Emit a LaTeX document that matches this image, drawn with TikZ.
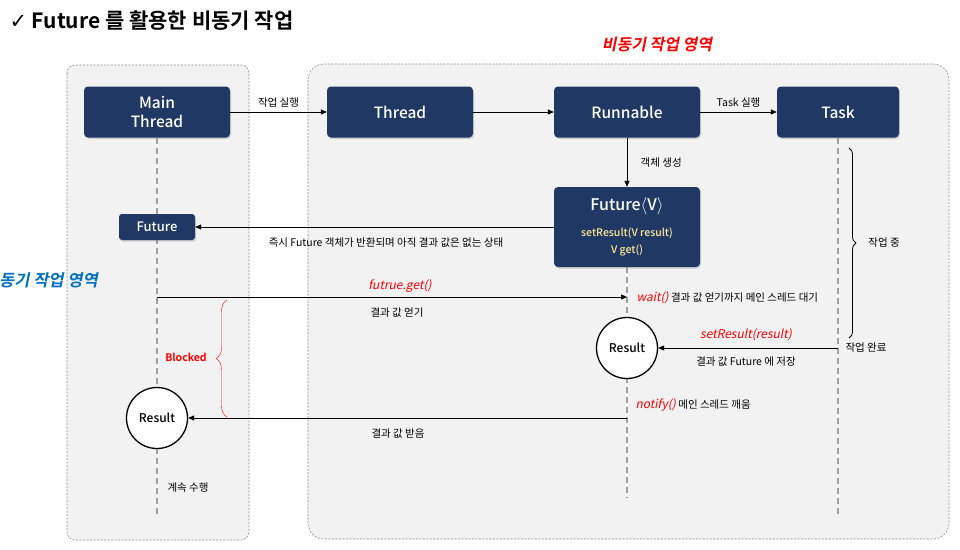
\documentclass[tikz,border=0pt]{standalone}
\usepackage{fontspec}
\setmainfont{Noto Sans CJK KR}[BoldFont={Noto Sans CJK KR Bold}, ItalicFont={Noto Sans CJK KR}, ItalicFeatures={FakeSlant=0.2}, BoldItalicFont={Noto Sans CJK KR Bold}, BoldItalicFeatures={FakeSlant=0.2}]
\newfontfamily\medfont{Noto Sans CJK KR Medium}
\newfontfamily\symfont{DejaVu Sans}
\usetikzlibrary{arrows.meta,decorations.pathreplacing,shadows}

\definecolor{boxnavy}{RGB}{32,56,100}
\definecolor{zonegray}{RGB}{242,242,242}
\definecolor{zoneline}{RGB}{140,140,140}
\definecolor{lifegray}{RGB}{160,160,160}
\definecolor{methodgold}{RGB}{255,230,153}
\definecolor{syncblue}{RGB}{0,112,192}

\tikzset{
  actor/.style={fill=boxnavy, text=white, rounded corners=4pt, minimum width=146pt, minimum height=51pt, align=center, font=\medfont\fontsize{15.5}{19}\selectfont, drop shadow={shadow xshift=1pt, shadow yshift=-1.5pt, opacity=0.3}},
  resultnode/.style={circle, draw, line width=1.3pt, fill=white, minimum size=61pt, inner sep=0pt, font=\medfont\fontsize{12}{14}\selectfont},
  zone/.style={fill=zonegray, draw=zoneline, dash pattern=on 2pt off 1.5pt, line width=0.6pt},
  lifeline/.style={draw=lifegray, line width=2.4pt, dash pattern=on 6pt off 4pt},
  msg/.style={->, line width=0.7pt},
  lbl/.style={font=\fontsize{10.5}{12}\selectfont},
  call/.style={text=red, font=\itshape\fontsize{12}{14}\selectfont}
}

\begin{document}
\begin{tikzpicture}[x=1pt, y=-1pt, line join=round, >={Stealth[length=6pt,width=5pt,inset=0pt]}]
\useasboundingbox[fill=white] (0,0) rectangle (960,549);
% zones
\path[zone, rounded corners=8pt] (67,65) rectangle (249,540);
\path[zone, rounded corners=16pt] (308,64) rectangle (949,539);
\node[anchor=west, font=\bfseries\fontsize{21}{24}\selectfont] (title) at (6,21) {{\symfont\mdseries ✓}\ Future 를 활용한 비동기 작업};
\node[text=red, font=\bfseries\itshape\fontsize{16}{19}\selectfont] (asyncTitle) at (657,45) {비동기 작업 영역};
\node[anchor=west, text=syncblue, font=\bfseries\itshape\fontsize{16.5}{19}\selectfont, inner sep=0pt] (syncTitle) at (-1,280) {동기 작업 영역};
% lifelines
\path (157,138) coordinate (mainTop)
      (157,515) coordinate (mainEnd)
      (627,267) coordinate (futTop)
      (627,498) coordinate (futEnd)
      (838,138) coordinate (taskTop)
      (838,514) coordinate (taskEnd);
\draw[lifeline] (mainTop) -- (mainEnd);
\draw[lifeline] (futTop) -- (futEnd);
\draw[lifeline] (taskTop) -- (taskEnd);
% boxes
\node[actor] (mainT) at (157,112) {Main\\Thread};
\node[actor] (thread) at (400,112) {Thread};
\node[actor] (runnable) at (627,112) {Runnable};
\node[actor, minimum width=122pt] (task) at (838,112) {Task};
\node[actor, minimum height=80pt, font=\medfont\fontsize{10.5}{17}\selectfont] (futureV) at (627,227)
  {{\fontsize{16}{20}\selectfont Future$\langle$V$\rangle$}\\[9pt]
   \textcolor{methodgold}{setResult(V result)}\\
   \textcolor{methodgold}{V get()}};
\node[actor, minimum width=76pt, minimum height=26pt, rounded corners=3pt, font=\medfont\fontsize{13}{15}\selectfont] (future) at (157,227) {Future};
\node[resultnode] (resFut) at (627,348) {Result};
\node[resultnode] (resMain) at (157,418) {Result};
% messages
\draw[msg] (mainT) -- (thread) node[midway, above=1pt, lbl] {작업 실행};
\draw[msg] (thread) -- (runnable);
\draw[msg] (runnable) -- (task) node[midway, above=1pt, lbl] {Task 실행};
\draw[msg] (runnable) -- (futureV) node[midway, anchor=west, xshift=10pt, lbl] {객체 생성};
\draw[msg] (futureV) -- (future);
\node[lbl] (returnLbl) at (386,243) {즉시 Future 객체가 반환되며 아직 결과 값은 없는 상태};
\path (157,297) coordinate (getFrom)
      (627,297) coordinate (getTo)
      (838,348) coordinate (setFrom)
      (627,418) coordinate (notifyFrom);
\draw[msg] (getFrom) -- (getTo);
\node[call] (getLbl) at (400,286) {futrue.get()};
\node[lbl] (getNote) at (397,313) {결과 값 얻기};
\node[anchor=west, lbl] (waitLbl) at (633,298) {\textcolor{red}{\itshape\fontsize{12}{14}\selectfont wait()}\ 결과 값 얻기까지 메인 스레드 대기};
\draw[msg] (setFrom) -- (resFut);
\node[call] (setLbl) at (746,335) {setResult(result)};
\node[lbl] (setNote) at (746,362) {결과 값 Future 에 저장};
\node[anchor=west, lbl] (doneLbl) at (842,348) {작업 완료};
\draw[line width=0.8pt, decorate, decoration={brace, amplitude=7pt}] (849,148) -- (849,338);
\node[lbl] (workLbl) at (884,243) {작업 중};
\node[anchor=west, lbl] (notifyLbl) at (632,405) {\textcolor{red}{\itshape\fontsize{12}{14}\selectfont notify()}\ 메인 스레드 깨움};
\draw[msg] (notifyFrom) -- (resMain);
\node[lbl] (recvNote) at (398,434) {결과 값 받음};
\draw[red, decorate, decoration={brace, amplitude=11pt}] (227,417) -- (227,300);
\node[text=red, font=\bfseries\fontsize{10.5}{12}\selectfont] (blockLbl) at (186,357) {Blocked};
\node[lbl] (contLbl) at (188,488) {계속 수행};
\end{tikzpicture}
\end{document}
